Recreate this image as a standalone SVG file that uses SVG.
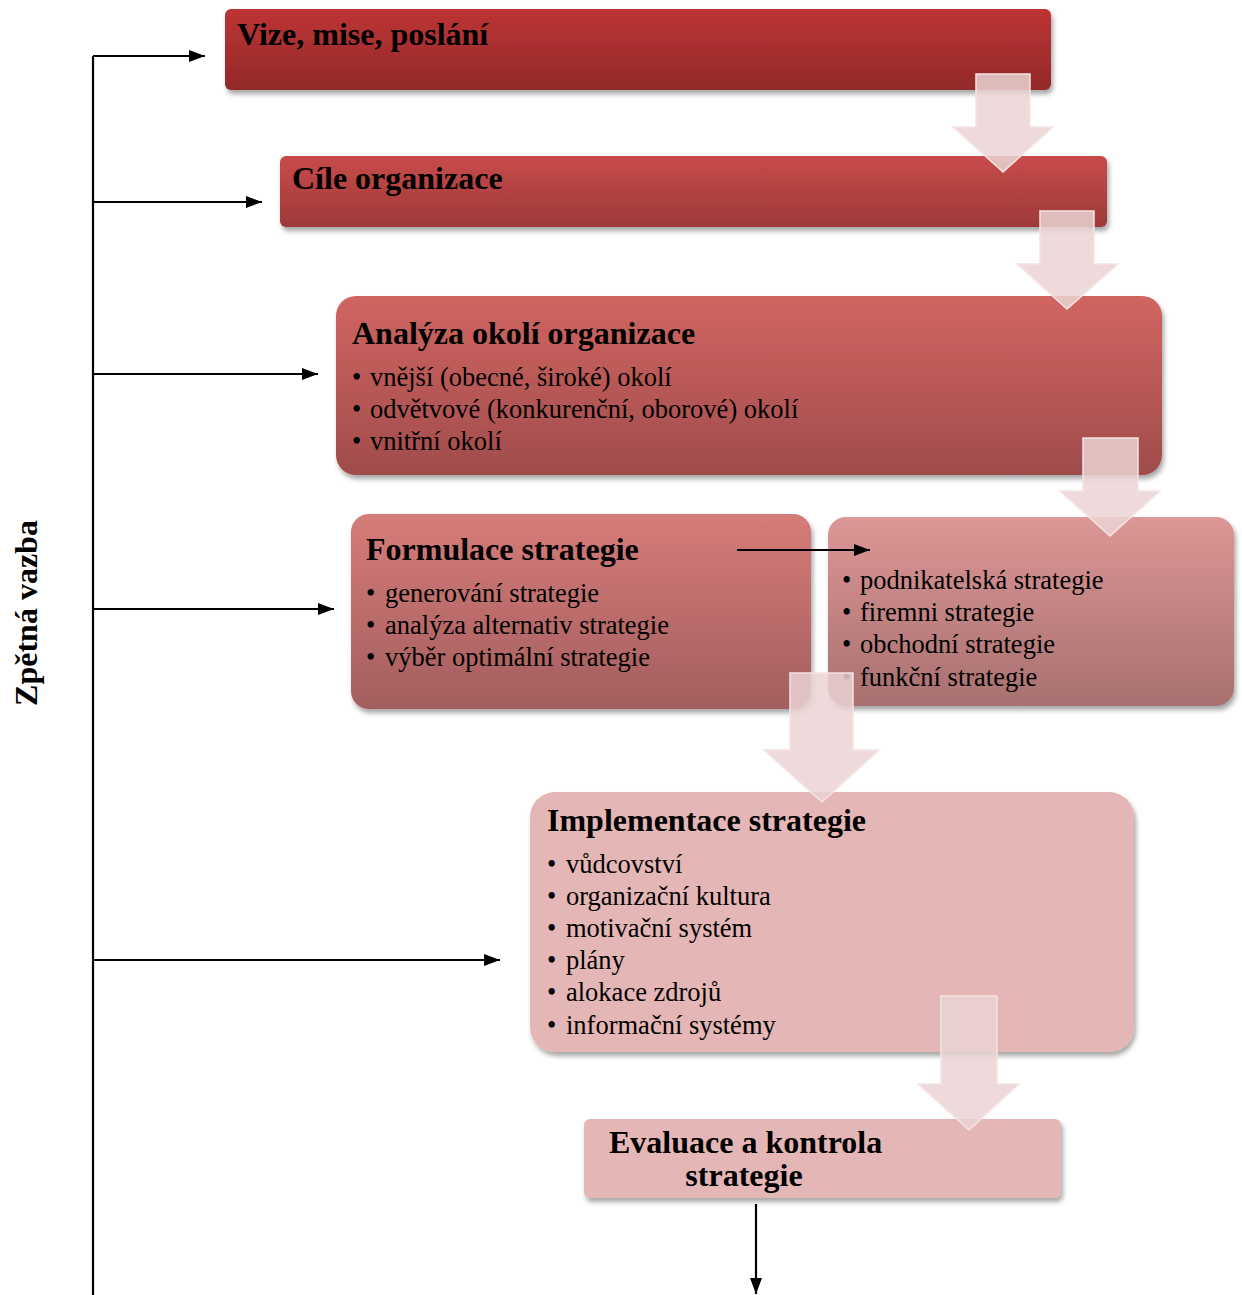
<svg xmlns="http://www.w3.org/2000/svg" width="1242" height="1295" viewBox="0 0 1242 1295">
<style>
.t{font-family:"Liberation Serif","Times New Roman",serif;fill:#000}
.h{font-size:32px;font-weight:bold}
.b{font-size:26.5px}
.ln{stroke:#000;stroke-width:2.2;fill:none}
.ba{fill:#EBD3D3;fill-opacity:0.85;stroke:#F4E4E4;stroke-width:1.5}
</style>
<defs>
<filter id="sh" x="-5%" y="-10%" width="112%" height="130%">
<feDropShadow dx="2" dy="4" stdDeviation="2.5" flood-color="#000" flood-opacity="0.35"/>
</filter>
<linearGradient id="g1" x1="0" y1="0" x2="0" y2="1"><stop offset="0" stop-color="#BD3434"/><stop offset="1" stop-color="#93292A"/></linearGradient>
<linearGradient id="g2" x1="0" y1="0" x2="0" y2="1"><stop offset="0" stop-color="#C84B4A"/><stop offset="1" stop-color="#9E3939"/></linearGradient>
<linearGradient id="g3" x1="0" y1="0" x2="0" y2="1"><stop offset="0" stop-color="#D06561"/><stop offset="1" stop-color="#A04C4C"/></linearGradient>
<linearGradient id="g4" x1="0" y1="0" x2="0" y2="1"><stop offset="0" stop-color="#D67C79"/><stop offset="1" stop-color="#A35E5E"/></linearGradient>
<linearGradient id="g5" x1="0" y1="0" x2="0" y2="1"><stop offset="0" stop-color="#DC9796"/><stop offset="1" stop-color="#A87070"/></linearGradient>
<marker id="ah" viewBox="0 0 16 12" refX="16" refY="6" markerWidth="16" markerHeight="12" markerUnits="userSpaceOnUse" orient="auto"><path d="M0,0 L16,6 L0,12 z" fill="#000"/></marker>
</defs>

<g id="n-vize">
<rect x="225" y="9" width="826" height="81" rx="6" fill="url(#g1)" filter="url(#sh)"/>
<text class="t h" x="237" y="45">Vize, mise, poslání</text>
</g>
<g id="n-cile">
<rect x="280" y="156" width="827" height="71" rx="6" fill="url(#g2)" filter="url(#sh)"/>
<text class="t h" x="292" y="189">Cíle organizace</text>
</g>
<g id="n-analyza">
<rect x="336" y="296" width="826" height="179" rx="20" fill="url(#g3)" filter="url(#sh)"/>
<text class="t h" x="352" y="344">Analýza okolí organizace</text>
<text class="t b" y="386"><tspan x="352">•</tspan><tspan x="370">vnější (obecné, široké) okolí</tspan></text>
<text class="t b" y="418"><tspan x="352">•</tspan><tspan x="370">odvětvové (konkurenční, oborové) okolí</tspan></text>
<text class="t b" y="450"><tspan x="352">•</tspan><tspan x="370">vnitřní okolí</tspan></text>
</g>
<g id="n-formulace">
<rect x="351" y="514" width="460" height="195" rx="18" fill="url(#g4)" filter="url(#sh)"/>
<text class="t h" x="366" y="560">Formulace strategie</text>
<text class="t b" y="602"><tspan x="366">•</tspan><tspan x="385">generování strategie</tspan></text>
<text class="t b" y="634"><tspan x="366">•</tspan><tspan x="385">analýza alternativ strategie</tspan></text>
<text class="t b" y="666"><tspan x="366">•</tspan><tspan x="385">výběr optimální strategie</tspan></text>
</g>
<g id="n-typy">
<rect x="828" y="517" width="406" height="189" rx="18" fill="url(#g5)" filter="url(#sh)"/>
<text class="t b" y="589"><tspan x="842">•</tspan><tspan x="860">podnikatelská strategie</tspan></text>
<text class="t b" y="621"><tspan x="842">•</tspan><tspan x="860">firemni strategie</tspan></text>
<text class="t b" y="653"><tspan x="842">•</tspan><tspan x="860">obchodní strategie</tspan></text>
<text class="t b" y="686"><tspan x="842">•</tspan><tspan x="860">funkční strategie</tspan></text>
</g>
<g id="n-implementace">
<rect x="530" y="792" width="604" height="260" rx="25" fill="#E5B6B6" filter="url(#sh)"/>
<text class="t h" x="547" y="831">Implementace strategie</text>
<text class="t b" y="873"><tspan x="547">•</tspan><tspan x="566">vůdcovství</tspan></text>
<text class="t b" y="905"><tspan x="547">•</tspan><tspan x="566">organizační kultura</tspan></text>
<text class="t b" y="937"><tspan x="547">•</tspan><tspan x="566">motivační systém</tspan></text>
<text class="t b" y="969"><tspan x="547">•</tspan><tspan x="566">plány</tspan></text>
<text class="t b" y="1001"><tspan x="547">•</tspan><tspan x="566">alokace zdrojů</tspan></text>
<text class="t b" y="1034"><tspan x="547">•</tspan><tspan x="566">informační systémy</tspan></text>
</g>
<g id="n-evaluace">
<rect x="584" y="1119" width="477" height="79" rx="6" fill="#E5B6B6" filter="url(#sh)"/>
<text class="t h" x="609" y="1153">Evaluace a kontrola</text>
<text class="t h" x="744" y="1186" text-anchor="middle">strategie</text>
</g>
<g id="n-zpetna">
<text class="t h" transform="translate(37,613) rotate(-90)" text-anchor="middle">Zpětná vazba</text>
</g>

<g id="connectors">
<path class="ba" d="M976,74 H1030 V127 H1053 L1003,172 L953,127 H976 Z"/>
<path class="ba" d="M1040,211 H1094 V264 H1118 L1067,309 L1017,264 H1040 Z"/>
<path class="ba" d="M1083,438 H1138 V491 H1160 L1110,536 L1060,491 H1083 Z"/>
<path class="ba" d="M790,673 H853 V750 H879 L822,802 L764,750 H790 Z"/>
<path class="ba" d="M941,996 H997 V1084 H1019 L969,1130 L918,1084 H941 Z"/>
<path class="ln" d="M93,1295 V56"/>
<path class="ln" d="M93,56 H205" marker-end="url(#ah)"/>
<path class="ln" d="M93,202 H262" marker-end="url(#ah)"/>
<path class="ln" d="M93,374 H318" marker-end="url(#ah)"/>
<path class="ln" d="M93,609 H334" marker-end="url(#ah)"/>
<path class="ln" d="M93,960 H500" marker-end="url(#ah)"/>
<path class="ln" d="M737,550 H870" marker-end="url(#ah)"/>
<path class="ln" d="M756,1204 V1294" marker-end="url(#ah)"/>
</g>
</svg>
